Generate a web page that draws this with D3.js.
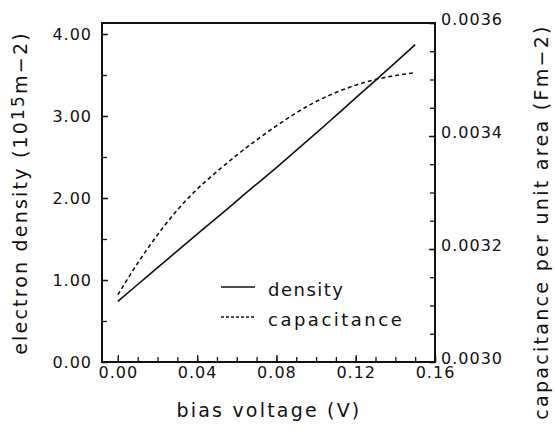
<!DOCTYPE html>
<html>
<head>
<meta charset="utf-8">
<script src="https://cdn.jsdelivr.net/npm/d3@7"></script>
<style>
  body { margin: 0; background: #fff; }
  text { font-family: "DejaVu Sans", sans-serif; fill: #111; }
</style>
</head>
<body>
<div id="chart"></div>
<script>
// values
const bias = [0.00, 0.01, 0.02, 0.03, 0.04, 0.05, 0.06, 0.07, 0.08, 0.09, 0.10, 0.11, 0.12, 0.13, 0.14, 0.15];
const density = [0.74, 0.945, 1.15, 1.355, 1.56, 1.76, 1.965, 2.17, 2.37, 2.58, 2.79, 3.005, 3.22, 3.435, 3.65, 3.87];
const capacitance = [0.003119, 0.003175, 0.003225, 0.003269, 0.003306, 0.003337, 0.003366, 0.003393,
                     0.003418, 0.003441, 0.003461, 0.003477, 0.003490, 0.003500, 0.003507, 0.003512];
const xTicks = [0, 0.04, 0.08, 0.12, 0.16];
const densTicks = [0, 1, 2, 3, 4];
const capTicks = [0.0030, 0.0032, 0.0034, 0.0036];
const seriesNames = ["density", "capacitance"];

let margin = {top: 23, right: 120, bottom: 75, left: 102},
    width = 555 - margin.left - margin.right,
    height = 437 - margin.top - margin.bottom;

let root = d3.select("#chart")
             .append("svg")
             .attr("width", 555)
             .attr("height", 437);

let svg = root.append("g")
              .attr("transform", "translate(" + margin.left + "," + margin.top + ")");

let x = d3.scaleLinear().domain([-0.008, 0.16]).range([0, width]);
let y = d3.scaleLinear().domain([0, height / 82]).range([height, 0]);
let y2 = d3.scaleLinear().domain([0.0030, 0.0036]).range([height, 0]);

// minor ticks
svg.append("g")
   .attr("transform", "translate(0," + height + ")")
   .call(d3.axisBottom(x).tickValues(d3.range(0, 0.1601, 0.01)).tickSize(-5).tickFormat(""));
svg.append("g")
   .call(d3.axisLeft(y).tickValues(d3.range(0, 4.01, 0.5)).tickSize(-5).tickFormat(""));
svg.append("g")
   .attr("transform", "translate(" + width + ",0)")
   .call(d3.axisRight(y2).tickValues(d3.range(0.0030, 0.003601, 0.00005)).tickSize(-5).tickFormat(""));

// labelled ticks
svg.append("g")
   .attr("class", "lab")
   .attr("transform", "translate(0," + height + ")")
   .call(d3.axisBottom(x).tickValues(xTicks).tickSize(-7).tickPadding(5).tickFormat(d3.format(".2f")));
svg.append("g")
   .attr("class", "lab")
   .call(d3.axisLeft(y).tickValues(densTicks).tickSize(-6).tickPadding(10).tickFormat(d3.format(".2f")));
svg.append("g")
   .attr("class", "lab right")
   .attr("transform", "translate(" + width + ",0)")
   .call(d3.axisRight(y2).tickValues(capTicks).tickSize(-6).tickPadding(6).tickFormat(d3.format(".4f")));

svg.selectAll(".domain").remove();
svg.selectAll(".tick line").attr("stroke", "#111").attr("stroke-width", 1.3);
svg.selectAll(".lab text")
   .attr("fill", "#111")
   .style("font-size", "16px")
   .style("letter-spacing", "1px");
svg.selectAll(".right text").attr("dy", "0.1em");

// frame
svg.append("rect")
   .attr("width", width)
   .attr("height", height)
   .attr("fill", "none")
   .attr("stroke", "#111")
   .attr("stroke-width", 2);

// lines
svg.append("path")
   .datum(bias)
   .attr("fill", "none")
   .attr("stroke", "#111")
   .attr("stroke-width", 1.6)
   .attr("d", d3.line()
     .curve(d3.curveMonotoneX)
     .x(function(d) { return x(d) })
     .y(function(d, i) { return y(density[i]) }));

svg.append("path")
   .datum(bias)
   .attr("fill", "none")
   .attr("stroke", "#111")
   .attr("stroke-width", 1.6)
   .attr("stroke-dasharray", "4,3")
   .attr("d", d3.line()
     .curve(d3.curveMonotoneX)
     .x(function(d) { return x(d) })
     .y(function(d, i) { return y2(capacitance[i]) }));

// legend
seriesNames.forEach(function(name, i) {
  let ly = 264 + i * 30;
  svg.append("line")
     .attr("x1", 119).attr("x2", 153)
     .attr("y1", ly).attr("y2", ly)
     .attr("stroke", "#111")
     .attr("stroke-width", 1.6)
     .attr("stroke-dasharray", i == 0 ? null : "3,2");
  svg.append("text")
     .attr("x", 166)
     .attr("y", ly + 4)
     .attr("dominant-baseline", "middle")
     .style("font-size", "18px")
     .style("letter-spacing", i == 0 ? "1.5px" : "2.5px")
     .text(name);
});

// axis titles
root.append("text")
    .attr("text-anchor", "middle")
    .attr("x", 269)
    .attr("y", 417)
    .style("font-size", "19px")
    .style("letter-spacing", "2.2px")
    .text("bias voltage (V)");

let yl = root.append("text")
    .attr("text-anchor", "middle")
    .attr("transform", "translate(27,193) rotate(-90)")
    .style("font-size", "19px")
    .style("letter-spacing", "2.2px");
yl.append("tspan").text("electron density (10");
yl.append("tspan").attr("dy", -3).style("font-size", "17px").text("15");
yl.append("tspan").attr("dy", 3).text("m\u22122)");

root.append("text")
    .attr("text-anchor", "middle")
    .attr("transform", "translate(548,222) rotate(-90)")
    .style("font-size", "19px")
    .style("letter-spacing", "2.3px")
    .text("capacitance per unit area (Fm\u22122)");
</script>
</body>
</html>
